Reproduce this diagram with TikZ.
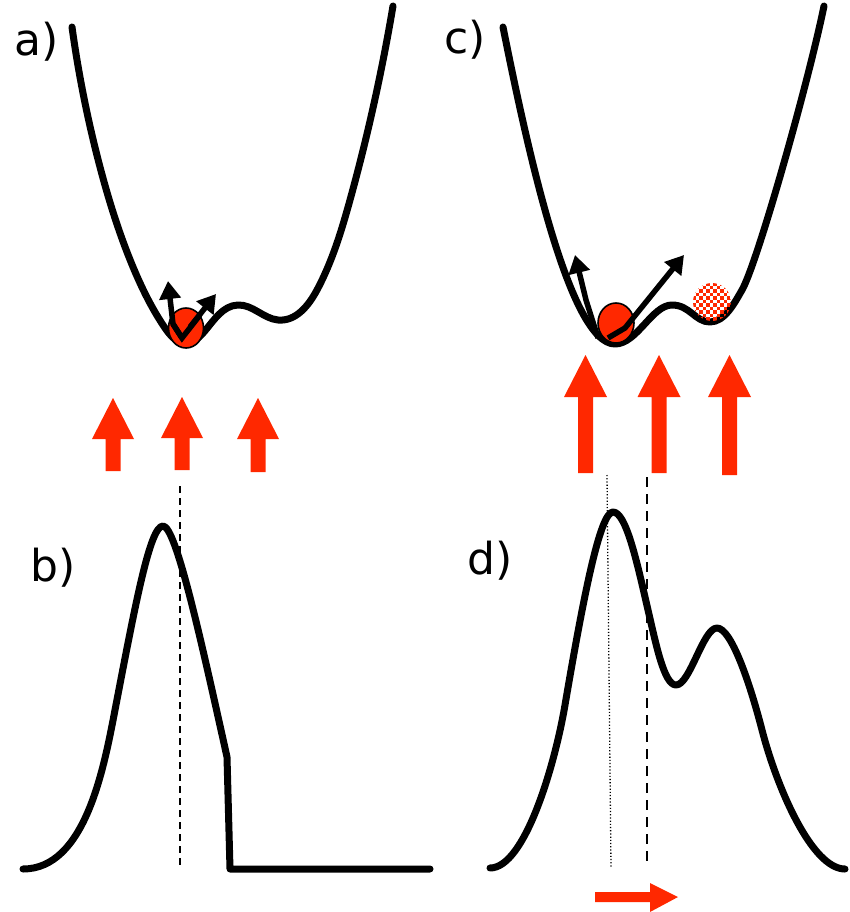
\documentclass[tikz,border=0pt]{standalone}
\usepackage{fontspec}
\setmainfont{DejaVu Sans}
\usetikzlibrary{arrows.meta,hobby}
\definecolor{hot}{RGB}{255,40,0}
\tikzset{
  curve/.style={line width=7pt, line cap=round, line join=round},
  kick/.style={line width=5.5pt, -{Triangle[length=18pt,width=21pt]}},
  ball/.style={fill=hot, draw=black, line width=1.6pt},
  blockarrow/.style={fill=hot, draw=none},
  lab/.style={anchor=base west, inner sep=0pt, font=\fontsize{44}{50}\selectfont},
}
\begin{document}
\begin{tikzpicture}[x=1pt,y=-1pt]
\useasboundingbox (0,0) rectangle (850,912);
% labels
\node[lab] (la) at (14,56) {a)};
\node[lab] (lc) at (444,54) {c)};
\node[lab] (lb) at (30,581) {b)};
\node[lab] (ld) at (467,574) {d)};
% panel a potential
\draw[curve, use Hobby shortcut] (72,27) .. (100,167) .. (133,267) .. (165,328) .. (185,343) .. (204,332) .. (238,305) .. (278,320) .. (317,290) .. (350,200) .. (393,6);
\draw[ball] (186,328) ellipse [x radius=17.5, y radius=20];
\draw[kick] (182,338) -- (173,324) -- (168,281);
\draw[kick, -, line join=miter] (173,324) -- (182,338) -- (200,315);
\draw[kick] (190,327) -- (216,294);
% panel c potential
\draw[curve] (503,27) .. controls (528,152) and (570,344) .. (615,344)
  .. controls (637,344) and (652,305) .. (672,305)
  .. controls (690,305) and (695,322) .. (710,322)
  .. controls (725,322) and (735,302) .. (742,290)
  .. controls (757,264) and (808,84) .. (824,6);
\draw[ball] (616,323) ellipse [x radius=18, y radius=20];
\begin{scope}
  \clip (712,302) circle [radius=19];
  \foreach \i in {0,...,11}{
    \foreach \j in {0,...,11}{
      \pgfmathparse{int(mod(\i+\j,2))}
      \ifnum\pgfmathresult=0
        \fill[hot] (692+\i*3.5,282+\j*3.5) rectangle ++(3.5,3.5);
      \fi
    }
  }
\end{scope}
\draw[kick] (598,338) -- (586,300) -- (575,255);
\draw[kick] (608,338) -- (625,328) -- (684,255);
% red field arrows (a)
\foreach \cx/\tip/\hb/\bot in {113/398/439/471, 182/397/438/470, 258/398/439/472}{
  \fill[blockarrow] (\cx-7.5,\bot) -- (\cx-7.5,\hb) -- (\cx-21,\hb) -- (\cx,\tip) -- (\cx+21,\hb) -- (\cx+7.5,\hb) -- (\cx+7.5,\bot) -- cycle;
}
% red field arrows (c)
\foreach \cx/\bot in {585.5/473, 659/473, 729.5/475}{
  \fill[blockarrow] (\cx-7.5,\bot) -- (\cx-7.5,397) -- (\cx-21.5,397) -- (\cx,355) -- (\cx+21.5,397) -- (\cx+7.5,397) -- (\cx+7.5,\bot) -- cycle;
}
% panel b distribution
\draw[black, line width=1.5pt, dash pattern=on 7pt off 5pt] (180,486) -- (180,869);
\draw[curve] (23,869) .. controls (85,869) and (103.7,769) .. (115,710)
  .. controls (135.8,602) and (150,526) .. (163,526)
  .. controls (176,526) and (201,640) .. (227,757)
  -- (230,869) -- (430,869);
% panel d distribution
\draw[black, line width=1.3pt, dash pattern=on 1.2pt off 2pt] (607,475) -- (611,868);
\draw[black, line width=2pt, dash pattern=on 10pt off 7pt] (647,477) -- (647,868);
\draw[curve] (490,868) .. controls (525,868) and (555,764) .. (565,705)
  .. controls (583.5,596.5) and (600,512) .. (613,512)
  .. controls (626,512) and (636.7,561) .. (648,610)
  .. controls (656,644) and (664,685) .. (676,685)
  .. controls (690,685) and (703,628) .. (717,628)
  .. controls (731,628) and (749.5,681.6) .. (762,730)
  .. controls (777,788) and (812,869) .. (845,869);
% shift arrow
\fill[blockarrow] (595,892) -- (650,892) -- (650,883) -- (678,897) -- (650,912) -- (650,902) -- (595,902) -- cycle;
\end{tikzpicture}
\end{document}
